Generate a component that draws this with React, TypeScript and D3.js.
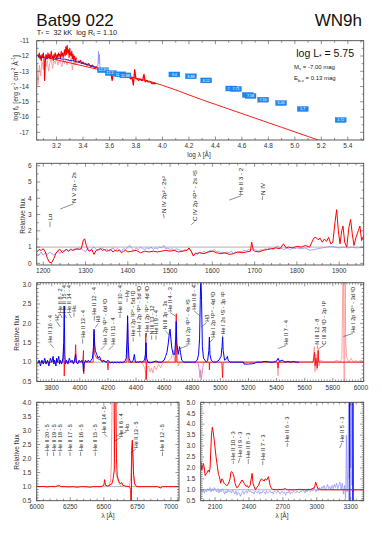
import React from "react";
import * as d3 from "d3";

const FONT = "'Liberation Sans', Arial, Helvetica, sans-serif";
const RED = "#ff0000";
const PINK = "#ff8c8c";
const BLUE = "#0000ff";
const LBLUE = "#8c8cff";
const GRAY = "#a8a8a8";
const AX = "#4a4a4a";

type Pt = [number, number];
const grid = (start: number, step: number, vals: number[]): Pt[] =>
  vals.map((v, i) => [+(start + i * step).toFixed(4), v]);

// ---------------- SED panel data (log lambda, log f) ----------------
const SED_MODEL_X = [3.05, 3.1, 3.2, 3.3, 3.4, 3.5, 3.6, 3.7, 3.8, 3.9, 4.0, 4.1, 4.2, 4.3, 4.4, 4.5, 4.6, 4.7, 4.8, 4.9, 5.0, 5.1, 5.2];
const SED_MODEL_Y = [-11.95, -12.05, -12.25, -12.45, -12.65, -12.85, -13.05, -13.25, -13.45, -13.65, -13.92, -14.22, -14.55, -14.87, -15.17, -15.47, -15.77, -16.07, -16.37, -16.67, -16.97, -17.27, -17.57];
const SED_RED_A = [
  -11.9, -12.1, -11.8, -12.2, -12.0, -12.3, -11.9, -12.1, -11.8, -12.2,
  -13.6, -12.4, -11.9, -12.0, -12.2, -11.8, -12.1, -11.9, -12.2, -12.0,
  -11.7, -12.1, -12.0, -12.3, -11.9, -12.1, -11.8, -12.0, -12.2, -11.9,
  -12.1, -11.8, -12.0, -11.9, -12.2, -11.7, -12.0, -11.8, -12.1, -11.9,
  -11.6, -12.0, -11.4, -11.9, -11.3, -11.8, -11.6, -12.1, -11.5, -11.9,
  -12.0, -11.7, -12.2, -11.9, -12.3, -12.0, -12.2, -12.4, -12.1];
const SED_RED_B = [
  -12.3, -12.4, -12.3, -12.5, -12.4, -12.5, -12.5, -12.6, -12.5, -12.6,
  -12.7, -12.6, -12.7, -12.8, -12.7, -12.8, -12.9, -12.8, -12.9, -12.9,
  -13.0, -12.9, -13.0, -13.1, -13.0, -13.1, -13.6, -13.1, -13.2, -13.1,
  -13.2, -13.2, -13.3, -13.2, -13.3, -13.3, -13.4, -13.3, -13.4, -13.4,
  -13.5, -13.4, -13.9, -12.9, -13.5, -13.5, -13.6, -13.5, -13.6, -13.6,
  -13.2, -13.7, -13.6, -13.7, -13.7, -13.7, -13.8, -13.8, -13.8, -13.8];
const SED_PINK = [
  -12.4, -13.9, -12.6, -13.3, -12.3, -12.9, -12.2, -12.7, -12.3, -13.0,
  -12.4, -12.2, -12.8, -12.3, -12.5, -12.1, -12.6, -12.3, -12.4, -12.7,
  -12.2, -12.5, -12.3, -12.6, -12.2, -12.4, -12.1, -12.9, -12.3, -12.6, -12.4, -12.5];
const SED_BLUE = [-12.0, -12.1, -12.05, -12.2, -12.1, -12.15, -12.1, -12.2, -12.15, -12.2, -12.2, -12.25, -12.3, -12.3, -12.35, -12.4, -12.45, -12.5, -12.55, -12.6, -12.65, -12.7, -12.75];
const SED_LBLUE: Pt[] = [[3.512, -12.7], [3.517, -11.7], [3.52, -12.5], [3.524, -11.9], [3.528, -12.8]];

const PHOT_LOGLAM = [3.55, 3.61, 3.68, 3.72, 4.09, 4.215, 4.33, 4.52, 4.555, 4.645, 4.665, 4.76, 4.896, 5.06, 5.346];
const PHOT_LOGF = [-12.93, -13.12, -13.2, -13.27, -13.21, -13.33, -13.6, -14.13, -14.16, -14.55, -14.62, -14.86, -15.08, -15.47, -16.19];
const PHOT_MAG = ["12.30", "12.17", "11.96", "11.88", "9.4", "8.88", "8.12", "7.73", "7.71", "7.6", "7.58", "7.16", "6.44", "5.7", "4.72"];

// ---------------- UV panel ----------------
const UV_RED: Pt[] = [[1185,0.7],[1190,0.85],[1195,0.8],[1200,0.9],[1205,0.7],[1210,0.3],[1215,0.05],[1220,0.05],[1225,0.3],[1230,0.6],[1235,0.8],[1240,0.85],[1245,0.65],[1250,0.8],[1255,0.85],[1260,0.75],[1265,0.85],[1270,0.8],[1275,0.85],[1280,0.9],[1285,0.85],[1290,0.9],[1295,1.45],[1298,1.5],[1302,1.1],[1306,0.8],[1310,0.75],[1315,0.85],[1320,0.55],[1325,0.8],[1330,0.85],[1335,0.9],[1340,0.8],[1345,0.85],[1350,0.75],[1355,0.8],[1360,0.85],[1365,0.7],[1370,0.8],[1375,0.75],[1380,0.8],[1385,0.65],[1390,0.75],[1395,0.8],[1400,0.7],[1410,0.75],[1420,0.8],[1430,0.65],[1440,0.75],[1450,0.7],[1460,0.75],[1470,0.7],[1480,0.75],[1490,0.8],[1500,0.75],[1510,0.8],[1520,0.7],[1530,0.75],[1540,0.8],[1545,0.95],[1550,0.75],[1555,0.45],[1560,0.6],[1570,0.65],[1580,0.6],[1590,0.7],[1600,0.75],[1610,0.65],[1620,0.6],[1630,0.65],[1640,0.55],[1650,0.6],[1660,0.7],[1670,0.65],[1680,0.7],[1690,0.75],[1693,1.3],[1697,0.8],[1700,0.75],[1710,0.7],[1720,0.8],[1730,0.85],[1740,0.9],[1750,0.95],[1760,0.9],[1768,1.2],[1775,0.95],[1780,1.0],[1790,0.95],[1800,1.05],[1810,1.0],[1820,1.1],[1830,1.0],[1840,1.55],[1845,1.6],[1850,1.45],[1855,1.55],[1860,1.3],[1865,1.5],[1870,1.35],[1875,1.6],[1880,1.2],[1885,1.3],[1890,2.5],[1894,3.3],[1898,2.0],[1902,1.2],[1906,2.0],[1909,2.3],[1913,1.3],[1918,1.0],[1923,2.2],[1927,2.7],[1931,1.8],[1935,1.1],[1940,1.6],[1945,2.0],[1949,2.3],[1953,1.4],[1958,1.7]];
const UV_BLUE: Pt[] = [[1185,0.6],[1190,0.5],[1195,0.7],[1200,0.5],[1205,0.65],[1210,0.55],[1215,0.7],[1220,0.6],[1225,0.5],[1230,0.65],[1235,0.75],[1240,0.6],[1245,0.8],[1250,0.7],[1255,0.85],[1260,0.75],[1265,0.9],[1270,0.8],[1275,0.9],[1280,0.85],[1285,0.95],[1290,0.9],[1295,0.8],[1300,0.7],[1305,0.95],[1310,0.8],[1315,0.9],[1320,1.0],[1325,0.85],[1330,0.75],[1335,0.9],[1340,0.95],[1345,0.8],[1350,0.9],[1355,0.75],[1360,0.85],[1365,0.95],[1370,0.8],[1375,0.9],[1380,0.85],[1385,0.75],[1390,0.9],[1395,0.85],[1400,1.0],[1405,1.1],[1410,0.9],[1415,0.8],[1420,0.95],[1425,0.85],[1430,1.0],[1435,0.9],[1440,0.85],[1445,0.95],[1450,0.9],[1455,1.0],[1460,0.85],[1465,0.95],[1470,0.9],[1475,1.0],[1480,0.95],[1485,1.1],[1490,0.9],[1495,0.95],[1500,0.85],[1505,0.9],[1510,0.8],[1515,0.9],[1520,0.85],[1525,0.8],[1530,0.75],[1535,0.85],[1540,0.8],[1545,0.9],[1550,0.7],[1555,0.5],[1560,0.65],[1565,0.55],[1570,0.7],[1575,0.6],[1580,0.75],[1585,0.65],[1590,0.7],[1595,0.8],[1600,0.75],[1605,0.85],[1610,0.7],[1615,0.75],[1620,0.65],[1625,0.7],[1630,0.6],[1635,0.7],[1640,0.65],[1645,0.75],[1650,0.6],[1655,0.7],[1660,0.65],[1665,0.75],[1670,0.7],[1675,0.8],[1680,0.75],[1685,0.85],[1690,0.8],[1695,0.9],[1700,0.85],[1705,0.8],[1710,0.75],[1715,0.85],[1720,0.8],[1725,0.9],[1730,0.85],[1735,0.95],[1740,0.9],[1745,0.85],[1750,1.0],[1755,1.05],[1760,0.95],[1765,0.9],[1770,0.85],[1775,0.95],[1780,0.9],[1785,0.85],[1790,0.95],[1795,0.9],[1800,0.95],[1810,0.9],[1820,0.95],[1830,0.8],[1840,0.85],[1850,0.9],[1860,0.95],[1870,1.0],[1880,1.05],[1890,1.0],[1900,0.95],[1910,1.0],[1920,0.95],[1930,1.0],[1940,0.95],[1950,0.97],[1958,0.98]];

// ---------------- optical panel ----------------
const OPT_BLUE: Pt[] = [[3700,0.95],[3710,1.05],[3720,0.9],[3730,1.05],[3740,0.95],[3750,1.1],[3760,0.95],[3770,1.05],[3780,0.9],[3790,1.1],[3800,1.0],[3810,1.15],[3815,0.95],[3820,1.05],[3830,0.9],[3835,1.1],[3840,1.0],[3850,1.15],[3855,0.95],[3860,1.05],[3870,0.95],[3880,1.1],[3885,1.5],[3889,2.45],[3893,1.2],[3897,0.95],[3905,1.05],[3915,0.95],[3925,1.1],[3935,1.0],[3945,1.05],[3955,0.95],[3965,1.1],[3970,1.2],[3975,1.0],[3985,0.95],[3995,1.05],[4005,1.0],[4015,1.05],[4022,0.95],[4026,0.75],[4030,0.95],[4040,1.05],[4050,1.0],[4060,1.05],[4070,1.0],[4080,1.05],[4090,1.1],[4097,1.4],[4101,1.85],[4105,1.5],[4110,1.3],[4120,1.2],[4130,1.1],[4140,1.15],[4150,1.05],[4160,1.0],[4170,1.05],[4180,1.0],[4190,1.0],[4200,1.05],[4210,1.0],[4220,0.98],[4230,1.0],[4240,0.98],[4250,1.0],[4260,0.98],[4270,1.0],[4280,0.98],[4290,1.0],[4300,0.98],[4310,1.0],[4320,1.02],[4330,1.1],[4336,1.6],[4340,2.2],[4344,1.5],[4350,1.1],[4360,1.0],[4370,1.0],[4380,1.05],[4388,1.2],[4395,1.0],[4410,1.0],[4420,1.0],[4430,1.02],[4440,1.0],[4450,1.02],[4460,1.05],[4467,1.2],[4471,1.5],[4475,1.1],[4485,1.0],[4500,0.98],[4520,1.0],[4542,1.03],[4560,1.0],[4580,1.0],[4600,1.05],[4610,1.15],[4620,1.25],[4630,1.5],[4637,1.75],[4642,1.85],[4648,1.6],[4655,1.35],[4665,1.2],[4675,1.2],[4682,1.6],[4686,2.05],[4690,1.5],[4700,1.2],[4710,1.4],[4716,1.25],[4725,1.05],[4740,1.0],[4760,1.0],[4780,1.0],[4800,1.0],[4820,1.0],[4835,1.05],[4845,1.2],[4852,1.6],[4857,2.6],[4861,3.3],[4866,2.6],[4872,1.4],[4880,1.1],[4890,1.05],[4900,1.0],[4910,1.05],[4918,1.3],[4922,1.65],[4926,1.2],[4935,1.05],[4950,1.0],[4970,1.0],[4990,1.05],[5005,1.15],[5012,1.4],[5016,1.65],[5020,1.3],[5030,1.05],[5045,1.1],[5050,1.15],[5055,1.05],[5070,1.0],[5090,1.0],[5110,1.0],[5130,1.0],[5150,1.0],[5165,1.0],[5168,0.95],[5200,0.95],[5230,0.96],[5250,0.98],[5260,1.0],[5290,1.0],[5320,1.02],[5350,1.0],[5380,1.0],[5400,1.03],[5411,1.1],[5420,1.02],[5440,1.05],[5460,1.0],[5480,1.02],[5500,1.0],[5520,1.02],[5540,1.0],[5560,1.0]];
const OPT_RED: Pt[] = [[3700,1.0],[3800,1.0],[3813,1.05],[3820,1.0],[3880,1.0],[3886,1.4],[3889,0.64],[3892,1.0],[3965,1.0],[3970,1.45],[3975,1.0],[4020,1.0],[4026,1.3],[4028,0.7],[4032,1.0],[4095,1.0],[4101,1.8],[4106,1.2],[4120,1.1],[4150,1.05],[4195,1.0],[4200,0.8],[4205,1.0],[4335,1.0],[4340,2.0],[4345,1.0],[4465,1.0],[4470,1.75],[4472,0.55],[4476,1.0],[4490,1.0],[4600,1.0],[4682,1.0],[4686,2.25],[4690,1.0],[4850,1.0],[4920,1.0],[4922,0.8],[4925,1.0],[5010,1.0],[5016,0.6],[5020,1.0],[5405,1.0],[5411,0.85],[5415,1.0],[5660,1.0],[5670,1.25],[5675,0.9],[5680,1.1],[5690,0.85],[5696,1.3],[5700,1.0],[6020,1.0]];
const OPT_PINK_A: Pt[] = [[4440,1.0],[4455,0.9],[4465,0.8],[4471,0.55],[4478,0.85],[4490,0.9],[4500,0.75],[4510,0.85],[4520,0.72],[4530,0.9],[4545,0.8],[4560,0.95],[4575,0.85],[4590,1.0],[4620,1.0],[4650,1.1],[4665,1.3],[4675,1.0],[4686,1.5],[4692,1.2],[4700,0.9],[4710,1.0]];
const OPT_PINK_B: Pt[] = [[4840,1.0],[4850,0.8],[4855,0.6],[4860,0.8],[4864,0.55],[4870,0.7],[4880,1.0]];
const OPT_PINK_C: Pt[] = [[5380,1.0],[5405,1.0],[5410,0.65],[5415,1.0],[5450,1.0],[5500,1.02],[5560,1.0],[5620,1.02],[5660,1.0],[5668,1.4],[5673,0.75],[5680,1.2],[5688,0.8],[5696,1.35],[5702,0.9],[5710,1.05],[5740,1.0],[5800,1.0],[5830,1.05],[5850,1.0],[5865,1.1],[5872,3.2],[5876,3.2],[5880,0.4],[5884,0.4],[5888,3.2],[5892,1.5],[5900,1.1],[5915,1.0],[5930,1.1],[5945,1.0],[5960,1.05],[5980,1.0],[6000,1.05],[6020,1.0]];

// ---------------- red-optical panel ----------------
const HA_RED: Pt[] = [[6000,1.02],[6025,1.0],[6050,1.01],[6080,0.99],[6110,1.01],[6140,1.0],[6165,1.05],[6180,1.0],[6210,1.0],[6240,0.99],[6270,1.0],[6300,0.98],[6330,1.0],[6360,1.0],[6400,0.98],[6420,1.0],[6450,1.0],[6480,1.0],[6500,1.05],[6506,1.25],[6512,1.05],[6530,1.02],[6560,1.1],[6570,1.3],[6578,1.6],[6582,4.2],[6590,4.2],[6594,2.0],[6600,1.4],[6610,1.2],[6625,1.1],[6633,1.15],[6640,1.05],[6660,1.02],[6690,1.0],[6700,0.9],[6702,0.4],[6705,0.4],[6708,2.3],[6712,2.65],[6716,2.2],[6722,1.4],[6730,1.1],[6745,1.0],[6780,1.0],[6820,1.0],[6860,1.0],[6900,1.0],[6925,0.95],[6935,1.0],[6980,1.0],[7020,1.0],[7060,1.0]];
const HA_PINK_A: Pt[] = [[6540,1.0],[6550,1.2],[6556,1.8],[6562,4.2],[6572,4.2],[6578,2.2],[6585,1.6],[6600,1.3],[6615,1.1],[6630,1.0]];
const HA_PINK_B: Pt[] = [[6690,1.0],[6700,1.3],[6712,2.5],[6718,1.8],[6725,1.2],[6735,1.0]];

// ---------------- near-UV panel ----------------
const NUV_RED: Pt[] = [[1975,2.28],[1982,1.9],[1997,2.2],[2005,2.0],[2012,1.65],[2026,1.75],[2041,1.9],[2050,1.8],[2056,2.0],[2068,3.5],[2076,3.86],[2085,3.6],[2094,3.2],[2109,2.5],[2121,2.05],[2130,1.7],[2138,1.6],[2150,1.3],[2160,1.5],[2168,1.45],[2180,1.3],[2189,1.25],[2200,1.2],[2209,1.2],[2220,1.3],[2233,1.5],[2240,1.8],[2248,1.83],[2263,1.7],[2277,1.3],[2290,1.1],[2298,1.1],[2310,1.2],[2322,1.3],[2339,1.45],[2357,1.3],[2375,1.15],[2385,1.2],[2395,1.1],[2410,1.2],[2420,1.5],[2428,1.75],[2436,1.3],[2445,1.15],[2458,1.0],[2469,1.1],[2485,1.2],[2498,1.4],[2510,1.5],[2522,1.45],[2535,1.4],[2543,1.5],[2557,1.45],[2572,1.6],[2580,1.4],[2587,1.2],[2600,1.05],[2610,1.02],[2646,1.0],[2700,1.02],[2720,1.05],[2740,1.0],[2800,1.0],[2850,1.02],[2900,1.0],[2950,1.02],[2980,1.1],[2990,1.35],[3000,1.2],[3010,1.05],[3040,1.0],[3100,1.0],[3200,1.0],[3300,1.0],[3415,1.0]];
const NUV_BLUE: Pt[] = [[1975,1.05],[1985,0.9],[1995,1.0],[2005,0.85],[2015,1.0],[2025,0.9],[2035,1.05],[2045,0.95],[2055,1.1],[2065,0.9],[2075,1.05],[2085,0.95],[2095,1.1],[2105,1.0],[2115,0.9],[2125,1.05],[2135,0.85],[2145,1.0],[2155,0.9],[2165,1.05],[2175,0.95],[2185,0.8],[2195,0.95],[2205,0.85],[2215,1.0],[2225,0.9],[2235,0.95],[2245,0.85],[2255,1.0],[2265,0.9],[2275,0.8],[2285,0.95],[2295,0.75],[2305,0.9],[2315,0.85],[2325,0.7],[2335,0.85],[2345,0.95],[2355,0.8],[2365,0.9],[2375,0.95],[2385,0.85],[2395,1.0],[2405,0.9],[2415,0.95],[2425,0.85],[2435,0.9],[2445,0.8],[2455,0.95],[2465,0.9],[2475,0.85],[2485,0.95],[2495,0.8],[2505,0.9],[2515,0.85],[2525,0.95],[2535,0.9],[2545,0.8],[2555,0.95],[2565,0.85],[2575,0.9],[2585,0.95],[2595,0.85],[2605,0.9],[2615,0.8],[2625,0.95],[2635,0.9],[2645,0.85],[2655,0.95],[2665,0.9],[2675,0.8],[2685,0.9],[2695,0.95],[2705,0.85],[2715,0.9],[2725,0.75],[2735,0.9],[2745,0.85],[2755,0.95],[2765,0.8],[2775,0.9],[2785,0.85],[2795,0.95],[2805,0.9],[2815,0.85],[2825,0.95],[2835,0.9],[2845,0.85],[2855,0.95],[2865,0.9],[2875,1.0],[2885,0.95],[2895,0.85],[2905,1.0],[2915,0.9],[2925,1.05],[2935,0.95],[2945,0.9],[2955,1.05],[2965,0.95],[2975,1.1],[2985,1.0],[2995,0.9],[3005,1.05],[3015,0.95],[3025,1.1],[3035,1.0],[3045,1.15],[3055,1.05],[3065,1.2],[3075,1.0],[3085,1.1],[3095,1.25],[3105,1.05],[3115,1.15],[3125,1.0],[3135,1.2],[3145,1.05],[3155,1.25],[3165,1.1],[3175,1.3],[3185,1.05],[3195,1.2],[3205,1.35],[3215,1.0],[3225,1.3],[3235,0.8],[3245,1.2],[3255,0.6],[3262,3.5],[3268,0.9],[3275,2.0],[3282,5.2],[3288,1.5],[3295,5.2],[3300,2.0],[3306,5.2],[3312,1.2],[3318,5.2],[3325,0.9],[3330,1.0]];
const NUV_DBLUE: Pt[] = [[3286,0.4],[3290,5.2],[3294,0.4],[3316,0.4],[3320,5.2],[3324,0.4]];

// ---------------- line identifications: [line lambda, text lambda, text-bottom flux, leader-end flux, label] ----------------
type LL = [number, number, number, number, string];
const UV_LINES: LL[] = [
  [1216, 1216, 2.63, 2.23, "Lα"],
  [1240, 1272, 3.71, 3.34, "N V 2p - 2s"],
  [1486, 1484, 3.09, 2.78, "N IV 2p² - 2s²"],
  [1550, 1558, 2.6, 2.38, "C IV 2p ²P° - 2s ²S"],
  [1640, 1668, 4.2, 3.89, "He II 3 - 2"],
  [1718, 1719, 4.2, 3.89, "N IV"],
];
const OPT_LINES: LL[] = [
  [3813, 3788, 1.5, 1.37, "He II 16 - 4"],
  [3860, 3834, 2.07, 1.91, "Hζ"],
  [3875, 3859, 2.27, 2.14, "He II 8 - 2"],
  [3905, 3889, 2.27, 2.14, "He II 15 - 4"],
  [3940, 3923, 2.27, 2.14, "He II 14 - 4"],
  [3958, 3958, 2.3, 2.17, "Hε"],
  [4020, 4020, 1.63, 1.48, "He II 13 - 4"],
  [4103, 4103, 2.22, 2.07, "He II 12 - 4"],
  [4110, 4131, 2.02, 1.89, "Hδ"],
  [4150, 4179, 1.45, 1.32, "He I 2p ¹P° - 6d ¹D"],
  [4205, 4238, 1.45, 1.32, "He II 11 - 4"],
  [4286, 4286, 2.27, 2.14, "He II 10 - 4"],
  [4336, 4336, 2.68, 2.55, "Hγ"],
  [4380, 4380, 1.66, 1.53, "He I 2p ¹P° - 5d ¹D"],
  [4430, 4423, 1.78, 1.66, "He I 2p ³P° - 5d ³D"],
  [4471, 4476, 1.78, 1.66, "He I 2p ³P° - 4d ³D"],
  [4511, 4511, 1.71, 1.58, "N III 13 - 12"],
  [4542, 4542, 1.71, 1.58, "He II 9 - 4"],
  [4634, 4606, 1.84, 1.71, "N III 3p - 3s"],
  [4680, 4642, 2.3, 2.19, "He II 4 - 3"],
  [4713, 4770, 1.45, 1.35, "He I 2p ³P° - 4s ³S"],
  [4855, 4812, 2.35, 2.19, "He II 8 - 4"],
  [4866, 4903, 2.04, 1.91, "Hβ"],
  [4922, 4950, 1.63, 1.5, "He I 2p ¹P° - 4d ¹D"],
  [5017, 5017, 1.71, 1.58, "He I 2s ¹S - 3p ¹P"],
  [5411, 5467, 1.45, 1.35, "He II 7 - 4"],
  [5690, 5690, 1.45, 1.35, "N III 12 - 8"],
  [5700, 5738, 1.45, 1.35, "C III 3d ¹D - 3p ¹P"],
  [5876, 5942, 1.76, 1.66, "He I 2p ³P° - 3d ³D"],
];
const HA_LINES: LL[] = [
  [6079, 6079, 2.27, 2.09, "He II 20 - 5"],
  [6126, 6126, 2.27, 2.09, "He II 19 - 5"],
  [6173, 6173, 2.27, 2.09, "He II 18 - 5"],
  [6248, 6248, 2.27, 2.09, "He II 17 - 5"],
  [6327, 6327, 2.27, 2.09, "He II 16 - 5"],
  [6436, 6436, 2.27, 2.09, "He II 15 - 5"],
  [6527, 6501, 2.91, 2.77, "He II 14 - 5"],
  [6580, 6625, 2.77, 2.62, "He II 6 - 4"],
  [6590, 6672, 2.98, 2.8, "Hα"],
  [6700, 6739, 2.37, 2.2, "He II 13 - 5"],
  [6937, 6937, 2.27, 2.09, "He II 12 - 5"],
];
const NUV_LINES: LL[] = [
  [2262, 2262, 2.36, 2.18, "He II 10 - 3"],
  [2306, 2321, 2.5, 2.22, "He II 9 - 3"],
  [2394, 2394, 2.45, 2.18, "He II 8 - 3"],
  [2522, 2522, 2.36, 2.13, "He II 7 - 3"],
  [2739, 2739, 3.18, 2.96, "He II 6 - 3"],
  [3203, 3221, 3.18, 2.91, "He II 5 - 3"],
];

// ---------------- layout ----------------
type Spec = {
  id: string; x0: number; x1: number; y0: number; y1: number;
  xd: [number, number]; yd: [number, number];
  xMaj: number; xMin: number; yMaj: number; yMin: number;
  xDec: number; yDec: number; yLabRight: number; unity: boolean;
};
const L = 36.7, R = 363.7;
const S_SED: Spec = { id: "sed", x0: L, x1: R, y0: 40.7, y1: 140, xd: [3.05, 5.52], yd: [-17.5, -11], xMaj: 0.2, xMin: 0.1, yMaj: 1, yMin: 0.5, xDec: 1, yDec: 0, yLabRight: 29, unity: false };
const S_UV: Spec = { id: "uv", x0: L, x1: R, y0: 163.3, y1: 265, xd: [1184.5, 1958], yd: [-0.1, 6.15], xMaj: 100, xMin: 20, yMaj: 1, yMin: 0.5, xDec: 0, yDec: 0, yLabRight: 31.5, unity: true };
const S_OPT: Spec = { id: "opt", x0: L, x1: R, y0: 282.7, y1: 381.5, xd: [3693, 6020], yd: [0.5, 3.05], xMaj: 200, xMin: 20, yMaj: 0.5, yMin: 0.1, xDec: 0, yDec: 1, yLabRight: 31.5, unity: true };
const S_HA: Spec = { id: "ha", x0: L, x1: 179, y0: 402.3, y1: 500.7, xd: [6000, 7060], yd: [0.5, 4.0], xMaj: 250, xMin: 50, yMaj: 0.5, yMin: 0.1, xDec: 0, yDec: 1, yLabRight: 31.5, unity: true };
const S_NUV: Spec = { id: "nuv", x0: 200.7, x1: R, y0: 402.3, y1: 500.7, xd: [1973, 3415], yd: [0.5, 5.0], xMaj: 300, xMin: 50, yMaj: 0.5, yMin: 0.1, xDec: 0, yDec: 1, yLabRight: 195.5, unity: true };

function ticksRange(a: number, b: number, step: number) {
  const out: number[] = [];
  const n0 = Math.ceil(a / step - 1e-6), n1 = Math.floor(b / step + 1e-6);
  for (let i = n0; i <= n1; i++) out.push(+(i * step).toFixed(6));
  return out;
}

type Ser = { pts: Pt[]; color: string; w: number; op?: number };

function Panel({ s, series, lines, fs, extra }: { s: Spec; series: Ser[]; lines: LL[]; fs: number; extra?: (x: any, y: any) => React.ReactNode }) {
  const x = d3.scaleLinear().domain(s.xd).range([s.x0, s.x1]);
  const y = d3.scaleLinear().domain(s.yd).range([s.y1, s.y0]);
  const line = d3.line<Pt>().x((d) => x(d[0])).y((d) => y(d[1]));
  const xMaj = ticksRange(s.xd[0], s.xd[1], s.xMaj);
  const xMin = ticksRange(s.xd[0], s.xd[1], s.xMin).filter((v) => !xMaj.some((m) => Math.abs(m - v) < 1e-6));
  const yMaj = ticksRange(s.yd[0], s.yd[1], s.yMaj);
  const yMin = ticksRange(s.yd[0], s.yd[1], s.yMin).filter((v) => !yMaj.some((m) => Math.abs(m - v) < 1e-6));
  const big = 3.5, small = 2;
  const tk: React.ReactNode[] = [];
  xMaj.forEach((v, i) => {
    tk.push(<line key={"xa" + i} x1={x(v)} x2={x(v)} y1={s.y1} y2={s.y1 - big} />);
    tk.push(<line key={"xb" + i} x1={x(v)} x2={x(v)} y1={s.y0} y2={s.y0 + big} />);
  });
  xMin.forEach((v, i) => {
    tk.push(<line key={"xc" + i} x1={x(v)} x2={x(v)} y1={s.y1} y2={s.y1 - small} />);
    tk.push(<line key={"xd" + i} x1={x(v)} x2={x(v)} y1={s.y0} y2={s.y0 + small} />);
  });
  yMaj.forEach((v, i) => {
    tk.push(<line key={"ya" + i} y1={y(v)} y2={y(v)} x1={s.x0} x2={s.x0 + big} />);
    tk.push(<line key={"yb" + i} y1={y(v)} y2={y(v)} x1={s.x1} x2={s.x1 - big} />);
  });
  yMin.forEach((v, i) => {
    tk.push(<line key={"yc" + i} y1={y(v)} y2={y(v)} x1={s.x0} x2={s.x0 + small} />);
    tk.push(<line key={"yd" + i} y1={y(v)} y2={y(v)} x1={s.x1} x2={s.x1 - small} />);
  });
  return (
    <g>
      <defs>
        <clipPath id={"clip-" + s.id}>
          <rect x={s.x0} y={s.y0} width={s.x1 - s.x0} height={s.y1 - s.y0} />
        </clipPath>
      </defs>
      <g clipPath={`url(#clip-${s.id})`}>
        {s.unity && <line x1={s.x0} x2={s.x1} y1={y(1)} y2={y(1)} stroke={GRAY} strokeWidth={0.9} />}
        {series.map((se, i) => (
          <path key={i} d={line(se.pts) || ""} fill="none" stroke={se.color} strokeWidth={se.w} strokeOpacity={se.op ?? 1} strokeLinejoin="round" />
        ))}
        {extra && extra(x, y)}
      </g>
      {lines.map((l, i) => (
        <g key={"l" + i}>
          <line x1={x(l[0])} y1={y(l[3])} x2={x(l[1])} y2={y(l[2]) + 0.8} stroke="#222" strokeWidth={0.5} />
          <text transform={`translate(${(x(l[1]) + fs * 0.36).toFixed(2)},${y(l[2]).toFixed(2)}) rotate(-90)`} fontSize={fs} fill="#1a1a1a">
            {l[4]}
          </text>
        </g>
      ))}
      <g stroke={AX} strokeWidth={0.6}>{tk}</g>
      <rect x={s.x0} y={s.y0} width={s.x1 - s.x0} height={s.y1 - s.y0} fill="none" stroke={AX} strokeWidth={0.9} />
      <g fontSize={6.5} fill="#333">
        {xMaj.map((v, i) => (
          <text key={"xl" + i} x={x(v)} y={s.y1 + 8.3} textAnchor="middle">{v.toFixed(s.xDec)}</text>
        ))}
        {yMaj.map((v, i) => (
          <text key={"yl" + i} x={s.yLabRight} y={y(v) + 2.3} textAnchor="end">{v.toFixed(s.yDec)}</text>
        ))}
      </g>
    </g>
  );
}

export default function App() {
  const sedModel: Pt[] = SED_MODEL_X.map((v, i) => [v, SED_MODEL_Y[i]]);
  const sedSeries: Ser[] = [
    { pts: grid(3.05, 0.01, SED_PINK), color: PINK, w: 0.8 },
    { pts: grid(3.06, 0.005, SED_RED_A), color: RED, w: 1.1 },
    { pts: grid(3.36, 0.01, SED_RED_B), color: RED, w: 1.3 },
    { pts: grid(3.06, 0.02, SED_BLUE), color: "#2020d8", w: 1.0 },
    { pts: SED_LBLUE, color: LBLUE, w: 0.8 },
    { pts: sedModel, color: RED, w: 0.9 },
  ];
  const phot = (x: any, y: any) =>
    PHOT_LOGLAM.map((v, i) => (
      <g key={"ph" + i}>
        <rect x={x(v) - 5.5} y={y(PHOT_LOGF[i]) - 2.5} width={11} height={5} fill="#1e88f0" stroke="#1270d8" strokeWidth={0.3} />
        <text x={x(v)} y={y(PHOT_LOGF[i]) + 1.3} fontSize={3.6} fill="#fff" textAnchor="middle">{PHOT_MAG[i]}</text>
      </g>
    ));
  return (
    <svg width={382} height={541} viewBox="0 0 382 541" style={{ display: "block", position: "absolute", left: 0, top: 0 }} fontFamily={FONT}>
      <rect x={0} y={0} width={382} height={541} fill="#fff" />
      {/* header */}
      <text x={36.3} y={26} fontSize={17} fill="#111">Bat99 022</text>
      <text x={362} y={26} fontSize={17} fill="#111" textAnchor="end">WN9h</text>
      <text x={36.7} y={34.6} fontSize={7.3} fill="#222" xmlSpace="preserve">
        T<tspan dy={1.6} fontSize={5}>*</tspan><tspan dy={-1.6}>{" =  32 kK  log R"}</tspan><tspan dy={1.6} fontSize={5}>t</tspan><tspan dy={-1.6}>{" = 1.10"}</tspan>
      </text>

      <Panel s={S_SED} series={sedSeries} lines={[]} fs={6} extra={phot} />
      <text x={354} y={56.8} fontSize={10.5} textAnchor="end" fill="#111">
        log L<tspan dy={2} fontSize={6.5}>*</tspan><tspan dy={-2}>{" = 5.75"}</tspan>
      </text>
      <text x={294} y={68.5} fontSize={6} fill="#222">
        M<tspan dy={1.3} fontSize={4.2}>v</tspan><tspan dy={-1.3}>{" = -7.00 mag"}</tspan>
      </text>
      <text x={294} y={80.2} fontSize={6} fill="#222">
        E<tspan dy={1.3} fontSize={4.2}>b-v</tspan><tspan dy={-1.3}>{" = 0.13 mag"}</tspan>
      </text>
      <text x={199} y={157} fontSize={6.5} textAnchor="middle" fill="#333">log λ [Å]</text>
      <text transform="translate(17.5,88) rotate(-90)" fontSize={6.8} textAnchor="middle" fill="#333">
        log f<tspan dy={1.4} fontSize={4.8}>λ</tspan><tspan dy={-1.4}>{" [erg s"}</tspan><tspan dy={-2.2} fontSize={4.6}>-1</tspan><tspan dy={2.2}>{" cm"}</tspan><tspan dy={-2.2} fontSize={4.6}>-2</tspan><tspan dy={2.2}>{" Å"}</tspan><tspan dy={-2.2} fontSize={4.6}>-1</tspan><tspan dy={2.2}>]</tspan>
      </text>

      <Panel
        s={S_UV}
        series={[
          { pts: UV_BLUE, color: LBLUE, w: 0.8 },
          { pts: UV_RED, color: RED, w: 1.0 },
        ]}
        lines={UV_LINES}
        fs={6.2}
      />
      <text transform="translate(25,216) rotate(-90)" fontSize={6.5} textAnchor="middle" fill="#333">Relative flux</text>

      <Panel
        s={S_OPT}
        series={[
          { pts: OPT_PINK_A, color: PINK, w: 0.8 },
          { pts: OPT_PINK_B, color: "#e070c0", w: 0.8 },
          { pts: OPT_PINK_C, color: PINK, w: 0.8 },
          { pts: OPT_RED, color: RED, w: 0.8 },
          { pts: OPT_BLUE, color: BLUE, w: 1.0 },
        ]}
        lines={OPT_LINES}
        fs={5.6}
      />
      <text transform="translate(18.5,333) rotate(-90)" fontSize={6.5} textAnchor="middle" fill="#333">Relative flux</text>

      <Panel
        s={S_HA}
        series={[
          { pts: HA_PINK_A, color: PINK, w: 0.9 },
          { pts: HA_PINK_B, color: PINK, w: 0.9 },
          { pts: HA_RED, color: RED, w: 1.0 },
        ]}
        lines={HA_LINES}
        fs={5.4}
      />
      <text transform="translate(18.5,452) rotate(-90)" fontSize={6.5} textAnchor="middle" fill="#333">Relative flux</text>
      <text x={108} y={518} fontSize={6.5} textAnchor="middle" fill="#333">λ [Å]</text>

      <Panel
        s={S_NUV}
        series={[
          { pts: NUV_BLUE, color: LBLUE, w: 0.7 },
          { pts: NUV_DBLUE, color: BLUE, w: 0.8 },
          { pts: NUV_RED, color: RED, w: 1.0 },
        ]}
        lines={NUV_LINES}
        fs={5.8}
      />
      <text x={282} y={518} fontSize={6.5} textAnchor="middle" fill="#333">λ [Å]</text>
    </svg>
  );
}
